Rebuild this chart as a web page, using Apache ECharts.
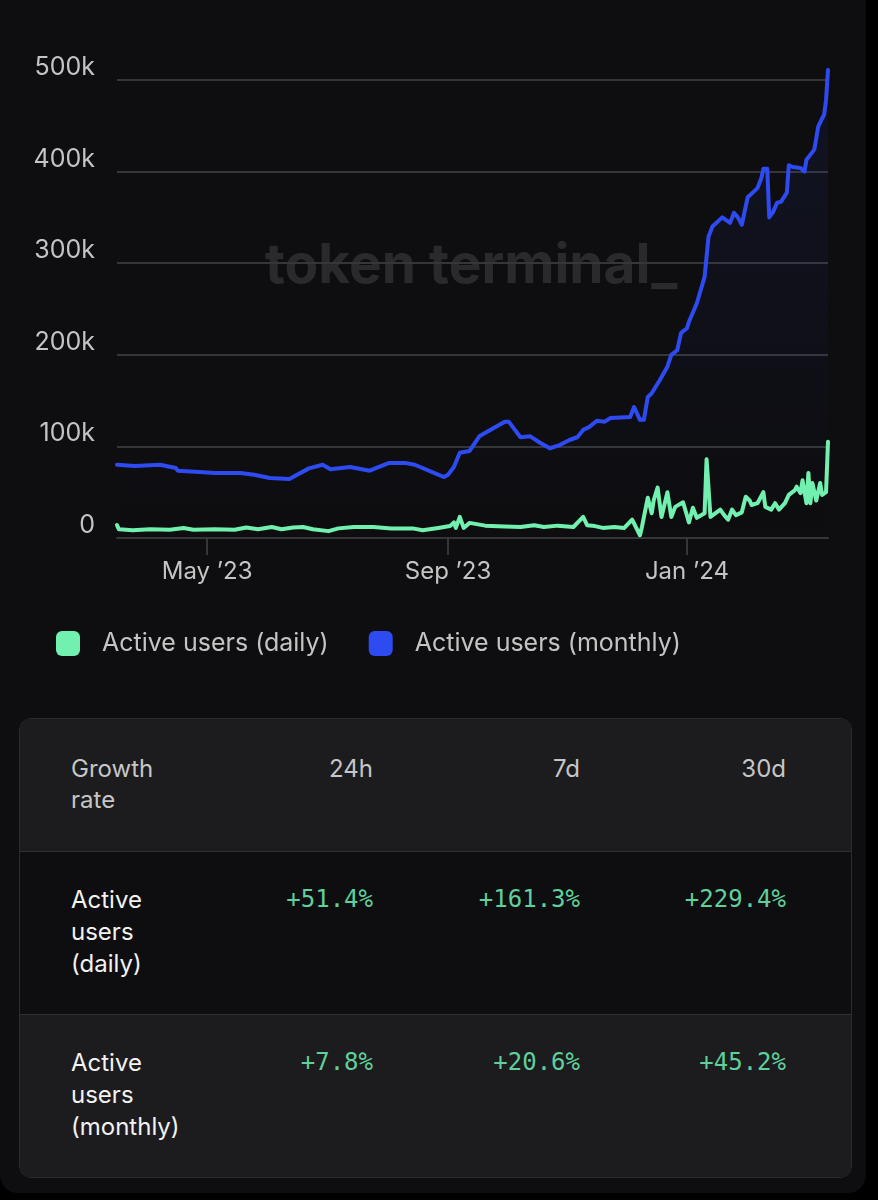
<!DOCTYPE html>
<html>
<head>
<meta charset="utf-8">
<script src="https://cdn.jsdelivr.net/npm/echarts@6/dist/echarts.min.js"></script>
<style>
  html, body { margin:0; padding:0; background:#000; width:878px; height:1200px; overflow:hidden; }
  #card { position:absolute; left:0; top:-20px; width:866px; height:1213px; background:#0e0e10; border-radius:0 0 18px 18px; }
  #chart { position:absolute; left:0; top:0; width:878px; height:700px; }
  #table { position:absolute; left:19px; top:718px; width:831px; height:458px; border:1px solid #2c2c2f; border-radius:12px; overflow:hidden; font-family:Inter, sans-serif; }
  .row { position:absolute; left:0; width:831px; }
  .cell { position:absolute; font-size:24px; line-height:31px; }
  .lab { left:51px; }
  .hd { color:#c6c6c6; }
  .rl { color:#f2f2f2; line-height:32px; }
  .val { color:#5fcf9b; font-family:"DejaVu Sans Mono", "Liberation Mono", monospace; font-size:24px; text-align:right; }
</style>
</head>
<body>
<div id="card"></div>
<div id="chart"></div>
<div id="table"></div>
<script>
// ---- data ----
const monthlyDates = ['2023-03-16','2023-03-25','2023-04-07','2023-04-15','2023-04-16','2023-04-27','2023-05-05','2023-05-18','2023-05-25','2023-06-02','2023-06-12','2023-06-13','2023-06-22','2023-06-29','2023-07-03','2023-07-13','2023-07-23','2023-08-02','2023-08-10','2023-08-15','2023-08-30','2023-09-01','2023-09-04','2023-09-07','2023-09-12','2023-09-17','2023-09-25','2023-09-30','2023-10-02','2023-10-08','2023-10-13','2023-10-18','2023-10-23','2023-10-28','2023-11-02','2023-11-06','2023-11-09','2023-11-12','2023-11-16','2023-11-20','2023-11-23','2023-12-03','2023-12-05','2023-12-08','2023-12-10','2023-12-12','2023-12-14','2023-12-18','2023-12-22','2023-12-24','2023-12-27','2023-12-29','2024-01-01','2024-01-02','2024-01-06','2024-01-10','2024-01-12','2024-01-14','2024-01-19','2024-01-23','2024-01-25','2024-01-27','2024-01-29','2024-02-01','2024-02-06','2024-02-08','2024-02-09','2024-02-11','2024-02-12','2024-02-14','2024-02-16','2024-02-18','2024-02-21','2024-02-22','2024-02-24','2024-02-28','2024-03-01','2024-03-02','2024-03-06','2024-03-08','2024-03-10','2024-03-11','2024-03-12','2024-03-13'];
const monthlyValues = [80000,78500,80000,76500,73500,72000,71000,71000,69000,65500,64500,63500,76000,80000,75000,77500,73500,82000,82000,80000,66500,69000,77500,93000,95000,111000,121000,127000,127000,110000,111000,104000,98000,101500,107000,110000,118000,121000,128000,127000,131000,132000,143000,129000,129000,154000,158000,172000,187000,200000,205000,224000,229000,236000,256000,285000,329000,340000,350000,344000,355000,350000,342000,372000,382000,393000,403000,403000,350000,356000,366000,367000,377000,407000,405000,404000,400000,413000,424000,449000,458000,462000,478000,511000];

const dailyDates = ['2023-03-16','2023-03-17','2023-03-24','2023-04-02','2023-04-12','2023-04-19','2023-04-24','2023-05-05','2023-05-15','2023-05-21','2023-05-27','2023-06-03','2023-06-08','2023-06-14','2023-06-19','2023-06-24','2023-07-02','2023-07-07','2023-07-15','2023-07-25','2023-08-03','2023-08-14','2023-08-19','2023-08-27','2023-09-02','2023-09-04','2023-09-05','2023-09-07','2023-09-09','2023-09-12','2023-09-20','2023-09-30','2023-10-08','2023-10-15','2023-10-20','2023-10-27','2023-11-04','2023-11-09','2023-11-11','2023-11-15','2023-11-19','2023-11-25','2023-11-30','2023-12-04','2023-12-08','2023-12-09','2023-12-12','2023-12-14','2023-12-15','2023-12-17','2023-12-19','2023-12-22','2023-12-24','2023-12-26','2023-12-30','2024-01-02','2024-01-04','2024-01-06','2024-01-10','2024-01-11','2024-01-12','2024-01-13','2024-01-18','2024-01-20','2024-01-22','2024-01-24','2024-01-26','2024-01-29','2024-01-31','2024-02-02','2024-02-03','2024-02-06','2024-02-09','2024-02-10','2024-02-13','2024-02-15','2024-02-17','2024-02-20','2024-02-22','2024-02-25','2024-02-26','2024-02-28','2024-02-29','2024-03-02','2024-03-03','2024-03-04','2024-03-05','2024-03-07','2024-03-09','2024-03-10','2024-03-12','2024-03-13'];
const dailyValues = [14000,9500,8500,9500,9000,11000,9000,9500,9000,11500,9500,12000,9500,11500,12000,9500,7500,10500,12000,12000,10500,10500,8500,11000,13000,17000,11000,23000,11000,16500,13500,12500,12000,14000,12000,13500,12000,23000,14000,13000,11000,12000,11000,20000,3000,12000,44000,27000,41000,55000,23000,50000,23000,34000,39000,17000,33000,22000,27000,86000,88000,23000,31000,25000,20000,31000,25000,28000,45000,41000,36000,38000,50000,34000,31000,38000,31000,38000,47000,52000,56000,49000,63000,38000,71000,38000,60000,41000,60000,47000,50000,105000];

const seriesNames = ['Active users (daily)', 'Active users (monthly)'];
const xTickDates = ['2023-05-01', '2023-09-01', '2024-01-01'];
const xTickLabels = ['May ’23', 'Sep ’23', 'Jan ’24'];
const yTickLabels = ['0', '100k', '200k', '300k', '400k', '500k'];

const tableHeader = ['Growth<br>rate', '24h', '7d', '30d'];
const tableRows = [
  ['Active<br>users<br>(daily)', '+51.4%', '+161.3%', '+229.4%'],
  ['Active<br>users<br>(monthly)', '+7.8%', '+20.6%', '+45.2%']
];

// ---- chart ----
const GREEN = '#72f0b0', BLUE = '#2e4bf2', GRID = '#36363a', LABEL = '#c4c4c4';
const DAY = 86400000;
const toTs = s => { const p = s.split('-'); return Date.UTC(+p[0], +p[1]-1, +p[2]) / DAY; };
const xTickTs = xTickDates.map(toTs);

const chart = echarts.init(document.getElementById('chart'), null, {renderer:'canvas'});
chart.setOption({
  backgroundColor: 'transparent',
  animation: false,
  textStyle: { fontFamily: 'Inter' },
  graphic: [{
    type: 'text', left: 265, top: 239, z: -10, silent: true,
    style: { text: 'token terminal_', fill: '#2a2a2c', font: 'bold 55px Inter' }
  }],
  legend: {
    left: 56, top: 631, padding: 0, itemWidth: 24, itemHeight: 25, itemGap: 40, icon: 'roundRect',
    textStyle: { color: LABEL, fontSize: 25, fontFamily: 'Inter', padding: [0,0,0,17] },
    data: seriesNames
  },
  grid: { left: 117, right: 50, top: 80, bottom: 162 },
  xAxis: {
    type: 'value',
    min: toTs(dailyDates[0]), max: toTs(dailyDates[dailyDates.length-1]),
    axisLine: { show: true, lineStyle: { color: GRID, width: 2 } },
    axisTick: { show: true, length: 17, lineStyle: { color: GRID, width: 2 }, customValues: xTickTs },
    axisLabel: {
      color: LABEL, fontSize: 24, fontFamily: 'Inter', margin: 22,
      customValues: xTickTs,
      formatter: v => { const i = xTickTs.indexOf(v); return i >= 0 ? xTickLabels[i] : ''; }
    },
    splitLine: { show: false }
  },
  yAxis: {
    type: 'value', min: 0, max: 500000, interval: 100000,
    axisLine: { show: false }, axisTick: { show: false },
    axisLabel: {
      color: LABEL, fontSize: 25, fontFamily: 'Inter', margin: 22, verticalAlign: 'bottom',
      formatter: v => yTickLabels[Math.round(v / 100000)]
    },
    splitLine: { lineStyle: { color: GRID, width: 2 } }
  },
  series: [
    {
      name: seriesNames[0], type: 'line', showSymbol: false, z: 3, clip: false,
      itemStyle: { color: GREEN },
      lineStyle: { color: GREEN, width: 4, join: 'round', cap: 'round' },
      data: dailyDates.map((d, i) => [toTs(d), dailyValues[i]])
    },
    {
      name: seriesNames[1], type: 'line', showSymbol: false, z: 2, clip: false,
      itemStyle: { color: BLUE },
      lineStyle: { color: BLUE, width: 4, join: 'round', cap: 'round' },
      areaStyle: {
        color: new echarts.graphic.LinearGradient(0, 0, 0, 1, [
          { offset: 0, color: 'rgba(46,75,242,0.12)' },
          { offset: 1, color: 'rgba(46,75,242,0)' }
        ])
      },
      data: monthlyDates.map((d, i) => [toTs(d), monthlyValues[i]])
    }
  ]
});

// ---- table ----
const colRight = [null, 372, 579, 785]; // right edges in page coords
const tbl = document.getElementById('table');
const rowsSpec = [
  { top: 0, height: 132, bg: '#1c1c1e' },
  { top: 132, height: 163, bg: '#0e0e10' },
  { top: 295, height: 163, bg: '#1c1c1e' }
];
rowsSpec.forEach((r, ri) => {
  const row = document.createElement('div');
  row.className = 'row';
  row.style.top = r.top + 'px';
  row.style.height = r.height + 'px';
  row.style.background = r.bg;
  if (ri > 0) row.style.borderTop = '1px solid #2f2f32';
  tbl.appendChild(row);
  const cells = ri === 0 ? tableHeader : tableRows[ri - 1];
  cells.forEach((t, ci) => {
    const c = document.createElement('div');
    if (ci === 0) {
      c.className = 'cell lab ' + (ri === 0 ? 'hd' : 'rl');
    } else {
      c.className = 'cell ' + (ri === 0 ? 'hd' : 'val');
      c.style.textAlign = 'right';
      c.style.right = (831 - (colRight[ci] - 19)) + 'px';
    }
    c.style.top = (ri === 0 ? 34 : 32) + 'px';
    c.innerHTML = t;
    row.appendChild(c);
  });
});
</script>
</body>
</html>
